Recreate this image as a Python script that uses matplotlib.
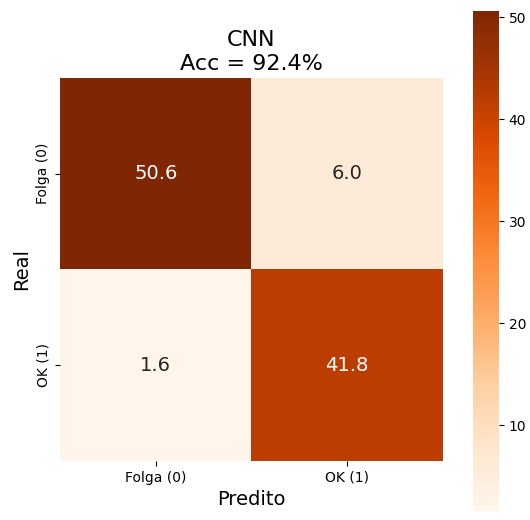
import numpy as np
import matplotlib
matplotlib.use("Agg")
import matplotlib.pyplot as plt
import seaborn as sns

# Matriz de confusão (valores em %)
classes = ["Folga (0)", "OK (1)"]
linha_folga = [50.6, 6.0]
linha_ok = [1.6, 41.8]
acc = 92.4
cbar_ticks = [10, 20, 30, 40, 50]

cm = np.array([linha_folga, linha_ok])

fig = plt.figure(figsize=(5.3, 5.2), dpi=100)
ax = fig.add_axes([0.1132, 0.1135, 0.7226, 0.7365])
cax = fig.add_axes([0.8925, 0.0175, 0.049, 0.9615])

sns.heatmap(cm, annot=True, fmt=".1f", cmap="Oranges", ax=ax, cbar_ax=cax,
            xticklabels=classes, yticklabels=classes,
            annot_kws={"size": 14})

ax.set_title(f"CNN\nAcc = {acc}%", fontsize=16)
ax.set_xlabel("Predito", fontsize=14)
ax.set_ylabel("Real", fontsize=14)
ax.tick_params(labelsize=10)

cax.set_yticks(cbar_ticks)
cax.tick_params(labelsize=10)

fig.savefig("out.png", dpi=100)
